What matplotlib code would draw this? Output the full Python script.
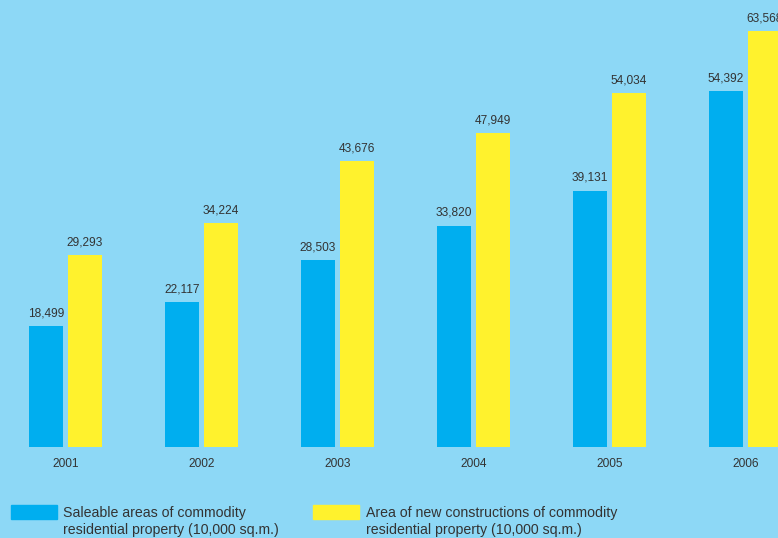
import matplotlib.pyplot as plt
import numpy as np

years = ["2001", "2002", "2003", "2004", "2005", "2006"]
saleable = [18499, 22117, 28503, 33820, 39131, 54392]
new_construction = [29293, 34224, 43676, 47949, 54034, 63568]
legend_labels = [
    ["Saleable areas of commodity", "residential property (10,000 sq.m.)"],
    ["Area of new constructions of commodity", "residential property (10,000 sq.m.)"],
]

bg = "#8dd8f6"
blue = "#00aeef"
yellow = "#fff22d"
text_col = "#333333"
plt.rcParams["font.family"] = ["Liberation Sans", "DejaVu Sans"]

fig = plt.figure(figsize=(7.78, 5.38), dpi=100, facecolor=bg)
ax = fig.add_axes([0, 0.1691, 1, 0.8309])
ax.set_facecolor(bg)
ax.axis("off")

x = np.arange(len(years))
w = 0.25
off = 0.1434
b1 = ax.bar(x - off, saleable, w, color=blue)
b2 = ax.bar(x + off, new_construction, w, color=yellow)
ax.set_xlim(-0.4816, 5.239)
ax.set_ylim(0, 68300)

for bars, vals in ((b1, saleable), (b2, new_construction)):
    for r, v in zip(bars, vals):
        ax.annotate(f"{v:,}", (r.get_x() + r.get_width() / 2, v),
                    xytext=(0, 5), textcoords="offset points",
                    ha="center", va="bottom", fontsize=8.6, color=text_col)

for xi, yr in zip(x, years):
    ax.annotate(yr, (xi, 0), xytext=(0, -8), textcoords="offset points",
                ha="center", va="top", fontsize=8.6, color=text_col,
                annotation_clip=False)

# legend drawn by hand in pixel coordinates
W, H = 778, 538
for (sx, tx), col, lines in zip(((11, 63), (313, 366)), (blue, yellow), legend_labels):
    fig.patches.append(plt.Rectangle((sx / W, (H - 519) / H), 46 / W, 14 / H,
                                     transform=fig.transFigure, color=col))
    for base, line in zip((517, 534), lines):
        fig.text(tx / W, (H - base) / H, line, ha="left", va="baseline",
                 fontsize=10.2, color=text_col)

fig.savefig("out.png", dpi=100, facecolor=bg)
